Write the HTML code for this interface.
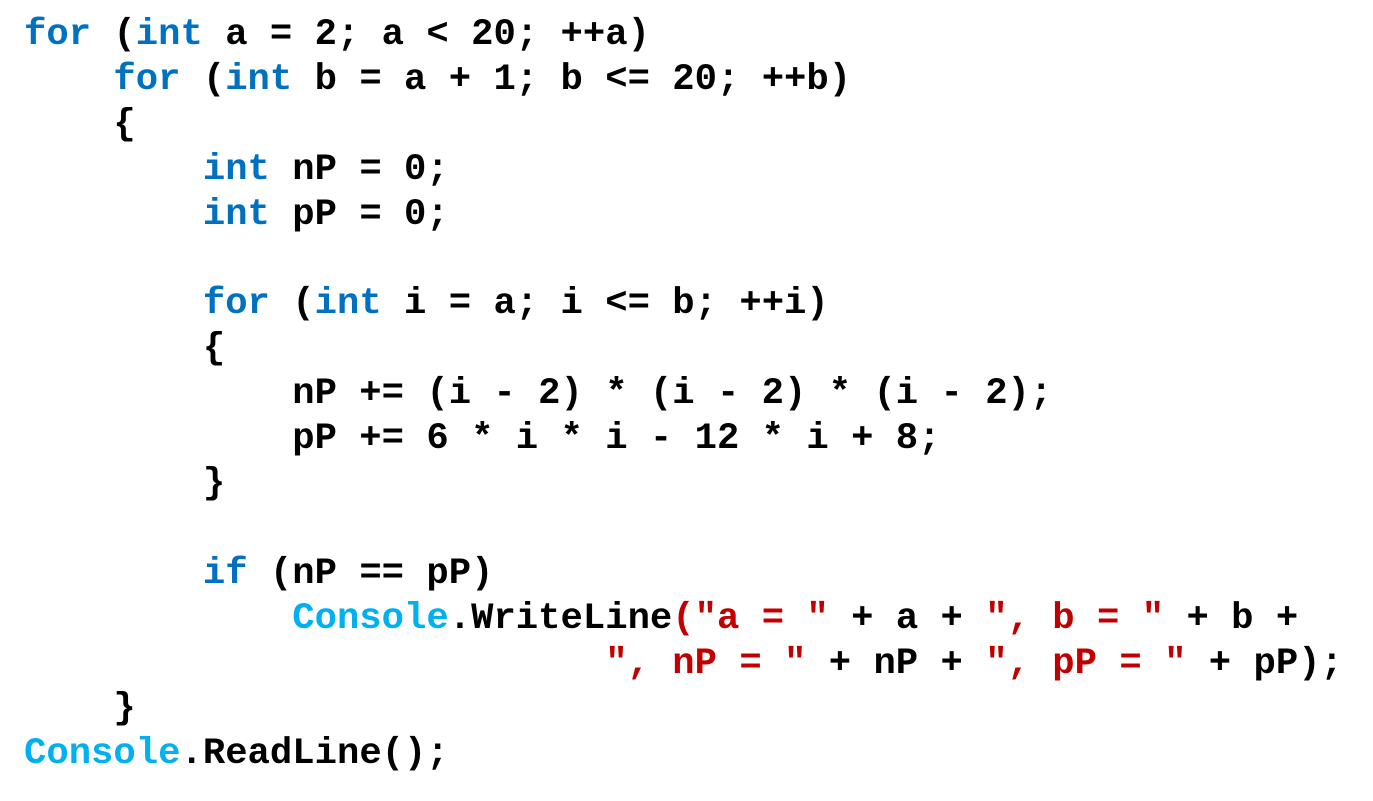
<!DOCTYPE html>
<html><head><meta charset="utf-8"><style>
html,body{margin:0;padding:0;background:#fff;width:1373px;height:801px;overflow:hidden}
pre{margin:0;position:absolute;left:24px;top:13px;font-family:"Liberation Mono",monospace;font-weight:bold;font-size:37.25px;line-height:44.9px;color:#000}
.k{color:#0070C0}.c{color:#00B0F0}.s{color:#C00000}
</style></head><body>
<pre><span class="k">for</span> (<span class="k">int</span> a = 2; a &lt; 20; ++a)
    <span class="k">for</span> (<span class="k">int</span> b = a + 1; b &lt;= 20; ++b)
    {
        <span class="k">int</span> nP = 0;
        <span class="k">int</span> pP = 0;

        <span class="k">for</span> (<span class="k">int</span> i = a; i &lt;= b; ++i)
        {
            nP += (i - 2) * (i - 2) * (i - 2);
            pP += 6 * i * i - 12 * i + 8;
        }

        <span class="k">if</span> (nP == pP)
            <span class="c">Console</span>.WriteLine<span class="s">("a = "</span> + a + <span class="s">", b = "</span> + b +
                          <span class="s">", nP = "</span> + nP + <span class="s">", pP = "</span> + pP);
    }
<span class="c">Console</span>.ReadLine();</pre>
</body></html>
